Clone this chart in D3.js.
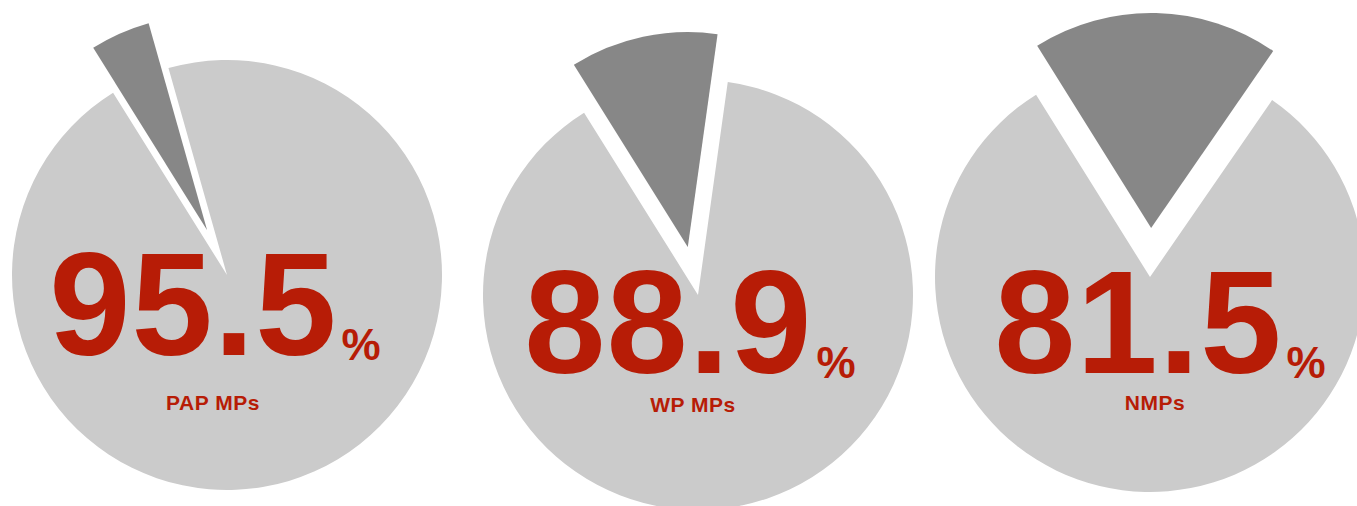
<!DOCTYPE html>
<html>
<head>
  <meta charset="utf-8">
  <title>MPs share</title>
  <script src="https://cdn.jsdelivr.net/npm/d3@7"></script>
  <style>
    body { margin: 0; background: #fff; }
    text { font-family: "Liberation Sans", Arial, Helvetica, sans-serif; font-weight: bold; fill: #b71c06; }
  </style>
</head>
<body>
<div id="container"></div>
<script>
    // data
    var groups = ["PAP MPs", "WP MPs", "NMPs"];
    var shares = [95.5, 88.9, 81.5];   // the big light slice
    var labels = ["95.5", "88.9", "81.5"];

    // layout (one entry per pie)
    var centers = [[227, 275], [698, 295], [1150, 277]];
    var numberPos = [[215, 355], [690, 373], [1160, 373]];
    var groupPos = [[213, 410], [693, 412], [1155, 410]];

    var width = 1357, height = 506;
    var radius = 215;
    var explode = 49;
    var startDeg = -32;

    var svg = d3.select("#container").append("svg")
        .attr("width", width).attr("height", height);

    var pie = d3.pie().sort(null)
        .startAngle(startDeg * Math.PI / 180)
        .endAngle(startDeg * Math.PI / 180 + 2 * Math.PI);

    var arc = d3.arc().innerRadius(0).outerRadius(radius);

    for (var i = 0; i < shares.length; i++) {
        var slices = pie([100 - shares[i], shares[i]]);
        var g = svg.append("g").attr("transform", "translate(" + centers[i][0] + "," + centers[i][1] + ")");

        // light part
        g.append("path").attr("d", arc(slices[1])).attr("fill", "#cbcbcb");

        // dark part, pulled out along its middle angle
        var mid = (slices[0].startAngle + slices[0].endAngle) / 2;
        g.append("path").attr("d", arc(slices[0])).attr("fill", "#878787")
            .attr("transform", "translate(" + (explode * Math.sin(mid)) + "," + (-explode * Math.cos(mid)) + ")");

        var t = svg.append("text")
            .attr("x", numberPos[i][0]).attr("y", numberPos[i][1])
            .attr("text-anchor", "middle");
        t.append("tspan").style("font-size", "146px").style("letter-spacing", "1px").text(labels[i]);
        t.append("tspan").attr("dx", 4).attr("dy", 5).style("font-size", "44px").text("%");

        svg.append("text")
            .attr("x", groupPos[i][0]).attr("y", groupPos[i][1])
            .attr("text-anchor", "middle")
            .style("font-size", "21px")
            .style("letter-spacing", "0.5px")
            .text(groups[i]);
    }
</script>
</body>
</html>
